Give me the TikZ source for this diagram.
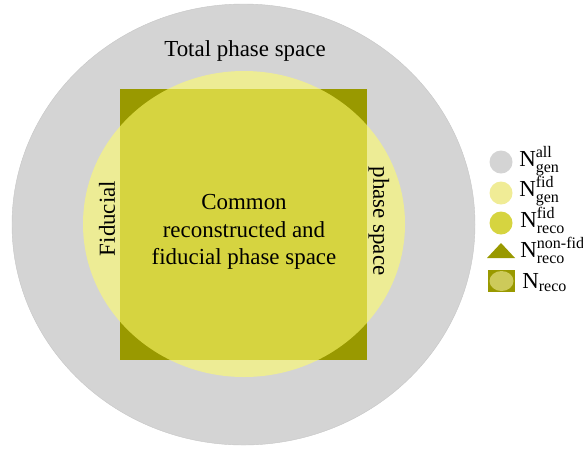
\documentclass[tikz,border=0pt]{standalone}
\usepackage{amsmath}
\usepackage{fontspec}
\setmainfont{Liberation Serif}

\definecolor{phasegrey}{RGB}{212,212,212}
\definecolor{recoolive}{RGB}{153,153,0}
\definecolor{fidyellow}{RGB}{255,252,107}
\definecolor{fidlight}{RGB}{240,236,150}
\definecolor{recofid}{RGB}{214,212,64}

\begin{document}
\begin{tikzpicture}[
		x=0.025cm, y=-0.025cm,
		every node/.style={font=\fontsize{16.3}{19.5}\selectfont, inner sep=0pt},
		fiducial/.style={fill=fidyellow, fill opacity=0.6},
		key/.style={anchor=base west},
	]
	\useasboundingbox (0,0) rectangle (583,450);

	% -- phase space regions --
	\filldraw[fill=phasegrey, draw=black!22, line width=0.3pt]
		(243.5,224.5) ellipse [x radius=231.5, y radius=220.5];
	\fill[recoolive] (120,89) rectangle (367,360);
	\fill[fiducial] (244,224) ellipse [x radius=161, y radius=153];

	% -- region labels --
	\node[anchor=base] (total) at (245,56.5) {Total phase space};
	\node[align=center] (common) at (244,232) {
		Common \\ reconstructed and \\ fiducial phase space
	};
	\node[rotate=90] (fidl) at (107,218.5) {Fiducial};
	\node[rotate=-90] (fidr) at (379,221) {phase space};

	% -- legend --
	\fill[phasegrey] (501,162) circle (11.5);
	\fill[fidlight] (501,193) circle (11.5);
	\fill[recofid] (501,223) circle (11.5);
	\fill[recoolive] (487,258) -- (515,258) -- (501,243) -- cycle;
	\fill[recoolive] (488,270) rectangle (515,292);
	\fill[fidlight, fill opacity=0.6] (501.5,281) ellipse [x radius=12, y radius=10];

	\node[key] (nall) at (519,166) {$\mathrm{N}^{\mathrm{all}}_{\mathrm{gen}}$};
	\node[key] (nfidgen) at (519,196.5) {$\mathrm{N}^{\mathrm{fid}}_{\mathrm{gen}}$};
	\node[key] (nfidreco) at (520,227) {$\mathrm{N}^{\mathrm{fid}}_{\mathrm{reco}}$};
	\node[key] (nnonfid) at (520,257.5) {$\mathrm{N}^{\text{non-fid}}_{\mathrm{reco}}$};
	\node[key] (nreco) at (522,288) {$\mathrm{N}_{\mathrm{reco}}$};
\end{tikzpicture}
\end{document}
